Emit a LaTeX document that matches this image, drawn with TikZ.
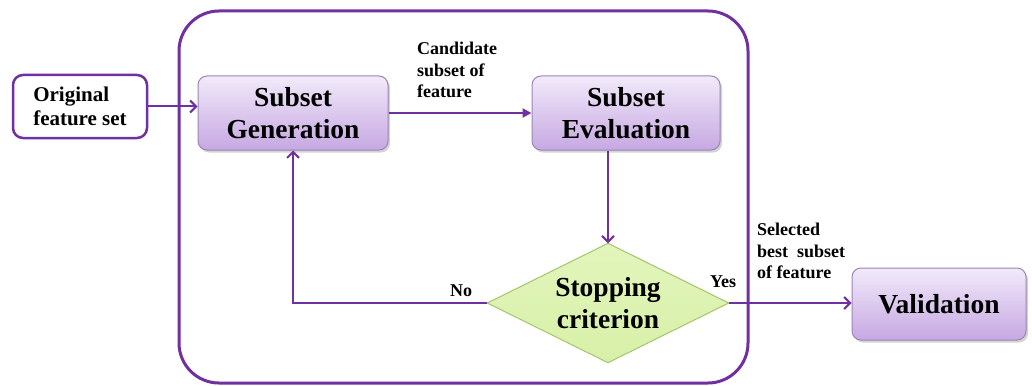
\documentclass[tikz,border=0pt]{standalone}
\usepackage{fontspec}
\setmainfont{Liberation Serif}
\usetikzlibrary{shapes.geometric,shadows,arrows.meta}
\definecolor{pur}{HTML}{7030A0}
\definecolor{boxtop}{HTML}{F2EAFA}
\definecolor{boxbot}{HTML}{C6A8E2}
\definecolor{boxline}{HTML}{9A86B4}
\definecolor{dfill}{HTML}{D8F0A8}
\definecolor{dtop}{HTML}{E2F5BC}
\definecolor{dline}{HTML}{A6C46A}
\begin{document}
\begin{tikzpicture}[x=1pt,y=-1pt,
  bigfont/.style={font=\bfseries\fontsize{27.5}{32}\selectfont},
  smallfont/.style={font=\bfseries\fontsize{18}{21.5}\selectfont},
  proc/.style={draw=boxline, line width=1pt, rounded corners=9pt, top color=boxtop, bottom color=boxbot,
    drop shadow={shadow xshift=2pt, shadow yshift=-2.5pt, opacity=0.35}, align=center, bigfont, inner sep=0pt},
  orig/.style={draw=pur, line width=2.5pt, rounded corners=10pt, fill=white, align=left,
    font=\bfseries\fontsize{21}{23.5}\selectfont, inner sep=0pt, minimum width=134pt, minimum height=63pt},
  diabox/.style={inner sep=0pt, minimum width=241pt, minimum height=119pt},
  diafill/.style={draw=dline, line width=1pt, top color=dtop, bottom color=dfill},
  frame/.style={draw=pur, line width=3pt, rounded corners=40pt, inner sep=0pt},
  arr/.style={draw=pur, line width=2pt, -{Straight Barb[length=6pt,width=12pt]}},
  farr/.style={draw=pur, line width=2pt, -{Triangle[length=9pt,width=9pt]}},
  lbl/.style={smallfont, align=left, inner sep=0pt, anchor=north west}
]
\useasboundingbox (0,0) rectangle (1032,385);
\node[frame, minimum width=569pt, minimum height=372pt] (frame) at (463.5,197) {};
\node[orig] (orig) at (80,106.5) {Original\\feature set};
\node[proc, minimum width=190pt, minimum height=74pt] (gen) at (293,113) {Subset\\Generation};
\node[proc, minimum width=188pt, minimum height=74pt] (eval) at (626,113) {Subset\\Evaluation};
\node[diabox] (stop) at (608,303) {};
\path[diafill] (stop.north) -- (stop.east) -- (stop.south) -- (stop.west) -- cycle;
\node[bigfont, align=center, inner sep=0pt] (stoptxt) at (stop.center) {Stopping\\criterion};
\node[proc, minimum width=174pt, minimum height=72pt] (val) at (939,304) {Validation};

\draw[arr] (orig.east) -- (orig.east -| gen.west);
\draw[farr] (gen.east) -- (eval.west);
\draw[arr] (eval.south -| stop.north) -- (stop.north);
\draw[arr] (stop.west) -| (gen.south);
\draw[arr] (stop.east) -- (stop.east -| val.west);

\node[lbl] (cand) at (417,42) {Candidate\\subset of\\feature};
\node[lbl] (sel) at (757,223) {Selected\\best\ \ subset\\of feature};
\node[smallfont, inner sep=0pt] (no) at (461,291) {No};
\node[smallfont, inner sep=0pt] (yes) at (723,282) {Yes};
\end{tikzpicture}
\end{document}
